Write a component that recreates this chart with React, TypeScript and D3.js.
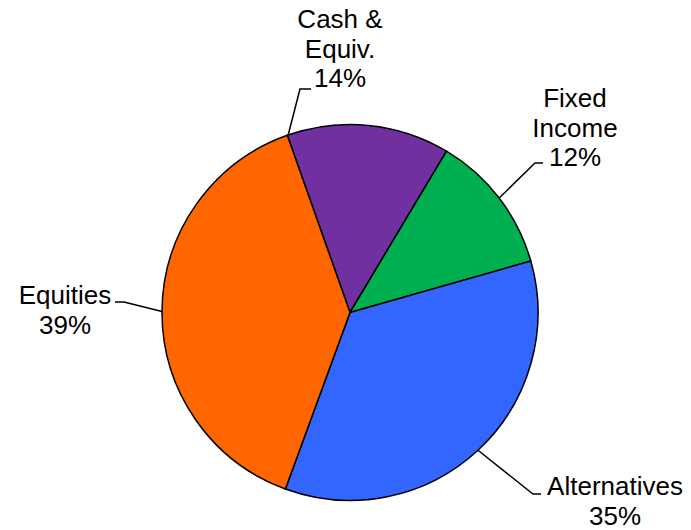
import React, { useEffect, useRef } from 'react';
import * as d3 from 'd3';

const categories = ['Cash & Equiv.', 'Fixed Income', 'Alternatives', 'Equities'];
const values = [14, 12, 35, 39];
const colors = ['#7030A0', '#00B050', '#3366FF', '#FF6600'];

// label lines as shown in the picture
const labelLines = [['Cash &', 'Equiv.', '14%'], ['Fixed', 'Income', '12%'], ['Alternatives', '35%'], ['Equities', '39%']];

const width = 691;
const height = 530;

export default function App() {
  const svgRef = useRef<SVGSVGElement>(null);

  useEffect(() => {
    if (!svgRef.current) return;
    const svg = d3.select(svgRef.current);
    svg.selectAll('*').remove();

    const cx = 350;
    const cy = 312.5;
    const r = 188;
    const startAngle = (-19.5 * Math.PI) / 180;

    const data = categories.map((c, i) => ({ name: c, value: values[i], color: colors[i], lines: labelLines[i] }));

    const pie = d3.pie<any>()
      .value(d => d.value)
      .sort(null)
      .startAngle(startAngle)
      .endAngle(startAngle + 2 * Math.PI);
    const arcs = pie(data);
    const arc = d3.arc<any>().innerRadius(0).outerRadius(r);

    const g = svg.append('g').attr('transform', `translate(${cx},${cy})`);

    g.selectAll('path')
      .data(arcs)
      .enter()
      .append('path')
      .attr('d', arc)
      .attr('fill', d => d.data.color)
      .attr('stroke', '#000')
      .attr('stroke-width', 1.5)
      .attr('stroke-linejoin', 'round');

    // label layout: text center, first baseline, leader angle (deg) and elbow
    const layout = [
      { x: 340, y: 28, angle: -19.2, elbow: [300, 89], end: [311, 89] },
      { x: 575, y: 107, angle: null, elbow: [535, 163], end: [543, 163] },
      { x: 615, y: 495, angle: null, elbow: [533, 494], end: [541, 494] },
      { x: 65, y: 304, angle: null, elbow: [124, 302], end: [115, 302] },
    ];

    arcs.forEach((a, i) => {
      const L = layout[i];
      const ang = L.angle !== null ? (L.angle * Math.PI) / 180 : (a.startAngle + a.endAngle) / 2;
      const sx = cx + r * Math.sin(ang);
      const sy = cy - r * Math.cos(ang);
      svg.append('polyline')
        .attr('points', `${sx},${sy} ${L.elbow[0]},${L.elbow[1]} ${L.end[0]},${L.end[1]}`)
        .attr('fill', 'none')
        .attr('stroke', '#000')
        .attr('stroke-width', 1.5);

      const t = svg.append('text')
        .attr('text-anchor', 'middle')
        .attr('font-family', '"Liberation Sans", Arial, sans-serif')
        .attr('font-size', 26)
        .attr('fill', '#000');
      a.data.lines.forEach((ln: string, j: number) => {
        t.append('tspan').attr('x', L.x).attr('y', L.y + j * 29.5).text(ln);
      });
    });
  }, []);

  return <svg ref={svgRef} width={width} height={height} style={{ position: 'absolute', left: 0, top: 0, background: '#fff' }} />;
}
